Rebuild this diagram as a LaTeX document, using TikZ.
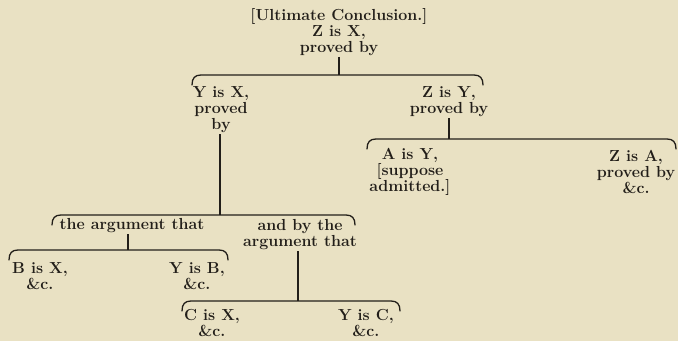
\documentclass[tikz,border=0pt]{standalone}
\usetikzlibrary{calc}
\definecolor{paper}{HTML}{E9E1C3}
\definecolor{ink}{HTML}{221E19}
\tikzset{
  txt/.style={align=center, inner sep=1pt, text=ink, font=\fontsize{16}{16}\selectfont\bfseries},
  brace/.style={draw=ink, line width=1.3pt, line cap=round,
    to path={($(\tikztostart)+(0,10)$) .. controls +(0,-7) and +(-6,0) .. ($(\tikztostart)+(9,0)$)
      -- ($(\tikztotarget)+(-9,0)$) .. controls +(6,0) and +(0,-7) .. ($(\tikztotarget)+(0,10)$)}},
  stem/.style={draw=ink, line width=1.2pt},
}
\begin{document}
\begin{tikzpicture}[x=1pt, y=-1pt]
  \useasboundingbox (0,0) rectangle (678,341);
  \fill[paper] (0,0) rectangle (678,341);
  \node[txt] (zx) at (339,32) {[Ultimate Conclusion.]\\Z is X,\\proved by};
  \node[txt] (yx) at (221,110) {Y is X,\\proved\\by};
  \node[txt] (zy) at (449,102) {Z is Y,\\proved by};
  \node[txt] (ay) at (410,172) {A is Y,\\{[suppose}\\admitted.]};
  \node[txt] (za) at (636,172) {Z is A,\\proved by\\\&c.};
  \node[txt] (arg1) at (132,226) {the argument that};
  \node[txt] (arg2) at (300,235) {and by the\\argument that};
  \node[txt] (bx) at (40,276) {B is X,\\\&c.};
  \node[txt] (yb) at (197,276) {Y is B,\\\&c.};
  \node[txt] (cx) at (212,323) {C is X,\\\&c.};
  \node[txt] (yc) at (366,323) {Y is C,\\\&c.};
  \coordinate (b1l) at (192,75); \coordinate (b1m) at (339,75); \coordinate (b1r) at (483,75);
  \coordinate (b2l) at (367,139); \coordinate (b2m) at (449,139); \coordinate (b2r) at (676,139);
  \coordinate (b3l) at (52,215); \coordinate (b3m) at (220,215); \coordinate (b3r) at (355,215);
  \coordinate (b4l) at (9,250); \coordinate (b4m) at (128,250); \coordinate (b4r) at (228,250);
  \coordinate (b5l) at (182,301); \coordinate (b5m) at (298,301); \coordinate (b5r) at (400,301);
  \draw[brace] (b1l) to (b1r);
  \draw[brace] (b2l) to (b2r);
  \draw[brace] (b3l) to (b3r);
  \draw[brace] (b4l) to (b4r);
  \draw[brace] (b5l) to (b5r);
  \draw[stem] (b1m |- zx.south) -- (b1m);
  \draw[stem] (b2m |- zy.south) -- (b2m);
  \draw[stem] (b3m |- yx.south) -- (b3m);
  \draw[stem] (b4m |- arg1.south) -- (b4m);
  \draw[stem] (b5m |- arg2.south) -- (b5m);
\end{tikzpicture}
\end{document}
